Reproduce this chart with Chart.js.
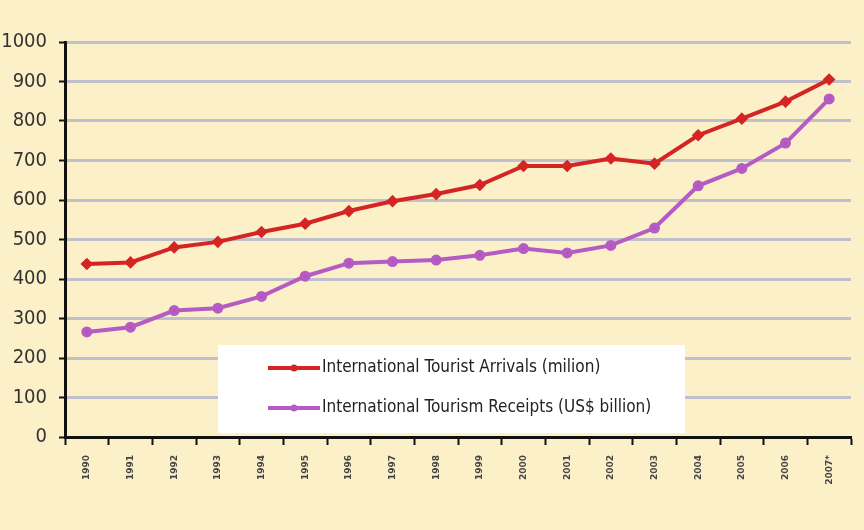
<!DOCTYPE html>
<html>
<head>
<meta charset="utf-8">
<script src="https://cdn.jsdelivr.net/npm/chart.js@4.4.0/dist/chart.umd.min.js"></script>
<style>
  html, body { margin: 0; padding: 0; background: #fcf0c8; }
  #wrap { width: 864px; height: 530px; position: relative; }
</style>
</head>
<body>
<div id="wrap"><canvas id="tourismChart" width="864" height="530"></canvas></div>
<script>
// Data
const years = ['1990', '1991', '1992', '1993', '1994', '1995', '1996', '1997', '1998',
    '1999', '2000', '2001', '2002', '2003', '2004', '2005', '2006', '2007*'];
const arrivals = [438, 442, 480, 494, 519, 540, 572, 597, 615, 638, 686, 686, 705, 692, 764, 806, 849, 905];
const receipts = [266, 278, 320, 326, 356, 407, 440, 444, 448, 460, 477, 466, 485, 529, 636, 680, 744, 856];
const yTicks = [0, 100, 200, 300, 400, 500, 600, 700, 800, 900, 1000];

const labelFont = '"Liberation Sans Narrow", "DejaVu Sans Condensed", "Liberation Sans", sans-serif';

// Legend box drawn inside the plot like the original
const boxLegend = {
    id: 'boxLegend',
    afterDatasetsDraw(chart) {
        const ctx = chart.ctx;
        const x = 218, y = 345, w = 467, h = 88;
        ctx.save();
        ctx.fillStyle = '#ffffff';
        ctx.fillRect(x, y, w, h);
        ctx.font = '17px ' + labelFont;
        ctx.textBaseline = 'middle';
        chart.data.datasets.forEach((ds, i) => {
            const ly = y + 23 + i * 40;
            ctx.strokeStyle = ds.borderColor;
            ctx.lineWidth = 4;
            ctx.beginPath();
            ctx.moveTo(x + 50, ly);
            ctx.lineTo(x + 102, ly);
            ctx.stroke();
            ctx.fillStyle = ds.borderColor;
            ctx.beginPath();
            ctx.arc(x + 76, ly, 3.5, 0, Math.PI * 2);
            ctx.fill();
            ctx.fillStyle = '#222';
            ctx.fillText(ds.label, x + 104, ly);
        });
        ctx.restore();
    }
};

document.addEventListener('DOMContentLoaded', () => {
    const ctx = document.getElementById('tourismChart').getContext('2d');
    new Chart(ctx, {
        type: 'line',
        data: {
            labels: years,
            datasets: [{
                label: 'International Tourist Arrivals (milion)',
                data: arrivals,
                borderColor: '#d42424',
                backgroundColor: '#d42424',
                borderWidth: 4,
                pointRadius: 3.5,
                pointStyle: 'rectRot',
                tension: 0
            }, {
                label: 'International Tourism Receipts (US$ billion)',
                data: receipts,
                borderColor: '#b45cc4',
                backgroundColor: '#c04cbc',
                borderWidth: 4,
                pointRadius: 3.5,
                tension: 0
            }]
        },
        options: {
            responsive: false,
            animation: false,
            layout: {
                padding: { top: 42, right: 13, left: 0, bottom: 0 }
            },
            plugins: {
                legend: { display: false },
                tooltip: { enabled: false }
            },
            scales: {
                y: {
                    min: 0,
                    max: 1000,
                    afterBuildTicks: (scale) => {
                        scale.ticks = yTicks.map(v => ({ value: v }));
                    },
                    afterFit: (scale) => { scale.width = 65; },
                    border: { color: '#111', width: 3 },
                    grid: {
                        color: '#c0c0cc',
                        lineWidth: 3,
                        tickLength: 6,
                        tickColor: '#111',
                        tickWidth: 2
                    },
                    ticks: {
                        color: '#333',
                        padding: 12,
                        callback: (v) => String(v),
                        font: { family: labelFont, size: 20 }
                    }
                },
                x: {
                    offset: true,
                    afterFit: (scale) => { scale.height = 93; },
                    border: { color: '#111', width: 3 },
                    grid: {
                        offset: true,
                        drawOnChartArea: false,
                        tickLength: 8,
                        tickColor: '#111',
                        tickWidth: 2
                    },
                    ticks: {
                        color: '#444',
                        minRotation: 90,
                        maxRotation: 90,
                        padding: 10,
                        font: { family: 'DejaVu Sans', size: 9, weight: 'bold' }
                    }
                }
            }
        },
        plugins: [boxLegend]
    });
});
</script>
</body>
</html>
